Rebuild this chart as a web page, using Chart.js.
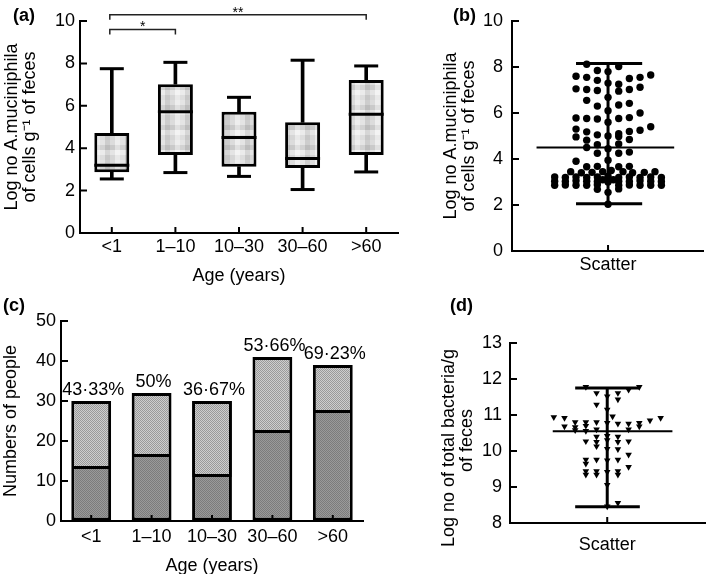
<!doctype html>
<html>
<head>
<meta charset="utf-8">
<title>A. muciniphila</title>
<script src="https://cdn.jsdelivr.net/npm/chart.js@4.4.1/dist/chart.umd.min.js"></script>
<style>
    body { margin: 0; background: #fff; overflow: hidden; }
    #wrap { position: relative; width: 709px; height: 574px; overflow: hidden; }
    #wrap canvas { position: absolute; }
    .panel { position: absolute; font: bold 18px "Liberation Sans", Arial, sans-serif; line-height: 20px; z-index: 2; }
</style>
</head>
<body>
<div id="wrap">
    <canvas id="chartA" width="440" height="290" style="left:0;top:0"></canvas>
    <canvas id="chartB" width="269" height="290" style="left:440px;top:0"></canvas>
    <canvas id="chartC" width="440" height="290" style="left:0;top:290px"></canvas>
    <canvas id="chartD" width="269" height="290" style="left:440px;top:290px"></canvas>
    <div class="panel" style="left:13px;top:5px">(a)</div>
    <div class="panel" style="left:453px;top:5px">(b)</div>
    <div class="panel" style="left:3px;top:295px">(c)</div>
    <div class="panel" style="left:450px;top:295px">(d)</div>
</div>

<script>
    // age groups (a) and (c)
    var ageGroups = ['<1', '1–10', '10–30', '30–60', '>60'];

    // (a) box plot
    var boxMin    = [2.55, 2.85, 2.67, 2.05, 2.88];
    var boxQ1     = [2.87, 3.68, 3.13, 3.07, 3.68];
    var boxMedian = [3.2, 5.72, 4.5, 3.52, 5.6];
    var boxQ3     = [4.72, 7.02, 5.72, 5.22, 7.22];
    var boxMax    = [7.75, 8.05, 6.4, 8.15, 7.88];
    var sigFrom  = [0, 0];
    var sigTo    = [1, 4];
    var sigLevel = [9.6, 10.3];
    var sigMark  = ['*', '**'];

    // (b) scatter: [column offset, log value]
    var pointsB = [
        [-2, 8.12], [1, 8.02], [-1, 7.85], [0, 7.8],
        [-3, 7.6], [-2, 7.55], [2, 7.5], [3, 7.55], [4, 7.65],
        [-1, 7.42], [0, 7.3], [1, 7.25],
        [-3, 7.05], [-2, 7.02], [-1, 6.98], [1, 6.95], [2, 7.02], [3, 7.12],
        [0, 6.68], [-2, 6.55], [-1, 6.3], [1, 6.35], [2, 6.42], [0, 6.1], [3, 6.0],
        [-3, 5.78], [-2, 5.76], [-1, 5.74], [0, 5.6], [1, 5.76], [2, 5.8],
        [4, 5.4], [-3, 5.3], [3, 5.25],
        [-2, 5.18], [-1, 5.05], [1, 5.1], [2, 5.2],
        [-3, 4.96], [0, 5.0], [1, 4.98], [-2, 4.82], [2, 4.85],
        [-1, 4.62], [1, 4.65], [0, 4.45], [-2, 4.5],
        [-1, 4.25], [1, 4.25], [2, 4.3], [-3, 3.9], [0, 3.95],
        [-2, 3.66], [-1, 3.68], [1, 3.66], [2, 3.68],
        [-3.5, 3.45], [-2.5, 3.4], [-1.5, 3.42], [-0.5, 3.45], [0.3, 3.5], [1.4, 3.45], [2.3, 3.4], [3.4, 3.42], [4.4, 3.45],
        [-5, 3.22], [-4, 3.2], [-3, 3.22], [-2, 3.2], [-1, 3.22], [0, 3.25], [1, 3.2], [2, 3.22], [3, 3.2], [4, 3.22], [5, 3.2],
        [-5, 3.03], [-4, 3.02], [-3, 3.05], [-2, 3.03], [-1, 3.02], [-0.5, 3.1], [0, 3.0], [0.5, 3.1], [1, 3.03], [2, 3.02], [3, 3.05], [4, 3.03], [5, 3.02],
        [-5, 2.86], [-4, 2.87], [-3, 2.86], [-2, 2.86], [-1, 2.88], [1, 2.86], [2, 2.87], [3, 2.86], [4, 2.86], [5, 2.86],
        [-1, 2.68], [1, 2.7], [0, 2.55], [0, 2.03]
    ];
    var meanB = 4.5, lowB = 2.05, highB = 8.15;

    // (c) stacked bars
    var totalPeople    = [30, 32, 30, 41, 39];
    var positivePeople = [13, 16, 11, 22, 27];
    var percentLabels  = ['43·33%', '50%', '36·67%', '53·66%', '69·23%'];

    // (d) scatter: [column offset, log value]
    var pointsD = [
        [-2, 11.78], [3, 11.78], [2, 11.7], [-1, 11.61], [1, 11.61],
        [0, 11.52], [1, 11.43], [-1, 11.29], [0, 11.15],
        [-5, 10.94], [-4, 10.92], [0.5, 10.96], [4, 10.85], [5, 10.92],
        [-3, 10.8], [-2, 10.8], [-1, 10.8], [0, 10.78], [1, 10.76], [2, 10.76], [3, 10.78],
        [-4, 10.68], [-3, 10.66], [-2, 10.7], [3, 10.68],
        [-3, 10.58], [-2, 10.56], [-1, 10.6], [2, 10.6],
        [-1, 10.4], [0, 10.42], [1, 10.4],
        [-2, 10.27], [-1, 10.25], [0, 10.3], [1, 10.25], [2, 10.27],
        [-1, 10.13], [0, 10.06], [1, 10.05], [2, 9.9],
        [-2, 9.76], [-1, 9.76], [0, 9.74], [1, 9.76], [-2, 9.65], [2, 9.56],
        [-2, 9.44], [-1, 9.44], [0, 9.42], [1, 9.44],
        [-2, 9.34], [-1, 9.34], [1, 9.34],
        [0, 9.06], [1, 8.56], [0, 8.46]
    ];
    var meanD = 10.55, lowD = 8.45, highD = 11.75;

    var FONT = '"Liberation Sans", Arial, sans-serif';
    Chart.defaults.font.family = FONT;
    Chart.defaults.font.size = 18;
    Chart.defaults.color = '#000';

    function makePattern(cells, size) {
        var c = document.createElement('canvas');
        c.width = cells[0].length * size;
        c.height = cells.length * size;
        var g = c.getContext('2d');
        cells.forEach(function (row, i) {
            row.forEach(function (col, j) {
                g.fillStyle = col;
                g.fillRect(j * size, i * size, size, size);
            });
        });
        return g.createPattern(c, 'repeat');
    }
    var boxFill = makePattern([
        ['#e4e4e4', '#cdcdcd', '#dcdcdc', '#eeeeee'],
        ['#d2d2d2', '#bdbdbd', '#cacaca', '#e0e0e0'],
        ['#ebebeb', '#d6d6d6', '#e4e4e4', '#f3f3f3'],
        ['#dddddd', '#c7c7c7', '#d6d6d6', '#e8e8e8']
    ], 5);
    var darkFill = makePattern([['#7c7c7c', '#9a9a9a'], ['#9a9a9a', '#7c7c7c']], 1);
    var lightFill = makePattern([['#9a9a9a', '#cecece'], ['#cecece', '#9a9a9a']], 1);

    // ticks pointing into the plot
    var inwardTicks = {
        id: 'inwardTicks',
        afterDatasetsDraw: function (chart) {
            var ctx = chart.ctx, area = chart.chartArea;
            var xs = chart.scales.x, ys = chart.scales.y;
            ctx.save();
            ctx.strokeStyle = '#000';
            ctx.lineWidth = 2;
            ctx.beginPath();
            ys.ticks.forEach(function (t, i) {
                var py = ys.getPixelForTick(i);
                ctx.moveTo(area.left, py);
                ctx.lineTo(area.left + 7, py);
            });
            xs.ticks.forEach(function (t, i) {
                var px = xs.getPixelForTick(i);
                ctx.moveTo(px, area.bottom);
                ctx.lineTo(px, area.bottom - 6);
            });
            ctx.stroke();
            ctx.restore();
        }
    };

    var brackets = {
        id: 'brackets',
        afterDatasetsDraw: function (chart) {
            var ctx = chart.ctx, xs = chart.scales.x, ys = chart.scales.y;
            ctx.save();
            ctx.strokeStyle = '#222';
            ctx.lineWidth = 1.5;
            ctx.fillStyle = '#000';
            ctx.font = '14px ' + FONT;
            ctx.textAlign = 'center';
            ctx.textBaseline = 'alphabetic';
            for (var i = 0; i < sigFrom.length; i++) {
                var x1 = xs.getPixelForTick(sigFrom[i]) - 2;
                var x2 = xs.getPixelForTick(sigTo[i]);
                var py = ys.getPixelForValue(sigLevel[i]);
                ctx.beginPath();
                ctx.moveTo(x1, py + 5); ctx.lineTo(x1, py);
                ctx.lineTo(x2, py); ctx.lineTo(x2, py + 5);
                ctx.stroke();
                ctx.fillText(sigMark[i], (x1 + x2) / 2, py + 2);
            }
            ctx.restore();
        }
    };

    var percentText = {
        id: 'percentText',
        afterDatasetsDraw: function (chart) {
            var ctx = chart.ctx, xs = chart.scales.x, ys = chart.scales.y;
            ctx.save();
            ctx.fillStyle = '#000';
            ctx.font = '18px ' + FONT;
            ctx.textAlign = 'center';
            ctx.textBaseline = 'alphabetic';
            percentLabels.forEach(function (txt, i) {
                ctx.fillText(txt, xs.getPixelForTick(i) + 2, ys.getPixelForValue(totalPeople[i]) - 6);
            });
            ctx.restore();
        }
    };

    function axisY(min, max, step, width, pad, title, titlePad) {
        return {
            min: min, max: max,
            ticks: { stepSize: step, padding: pad, font: { size: 18, lineHeight: 1 } },
            grid: { drawOnChartArea: false, drawTicks: false, tickLength: 0 },
            border: { color: '#000', width: 2 },
            title: { display: true, text: title, font: { size: 18, lineHeight: 1 }, padding: { top: titlePad, bottom: 0 } },
            afterFit: function (s) { s.width = width; }
        };
    }

    var common = {
        responsive: false,
        animation: false,
        events: [],
        plugins: { legend: { display: false }, tooltip: { enabled: false } }
    };

    // ---------- (a) ----------
    new Chart(document.getElementById('chartA'), {
        type: 'bar',
        data: {
            labels: ageGroups,
            datasets: [
                { type: 'line', data: boxMedian, showLine: false, pointStyle: 'line', pointRadius: 17.5,
                  pointBorderWidth: 3, pointBorderColor: '#000', order: 1 },
                { type: 'line', data: boxMax, showLine: false, pointStyle: 'line', pointRadius: 12,
                  pointBorderWidth: 3, pointBorderColor: '#000', order: 1 },
                { type: 'line', data: boxMin, showLine: false, pointStyle: 'line', pointRadius: 12,
                  pointBorderWidth: 3, pointBorderColor: '#000', order: 1 },
                { data: boxQ1.map(function (v, i) { return [v, boxQ3[i]]; }), backgroundColor: boxFill,
                  borderColor: '#000', borderWidth: 3, borderSkipped: false, grouped: false,
                  barPercentage: 0.55, categoryPercentage: 1, order: 2 },
                { data: boxMin.map(function (v, i) { return [v, boxQ1[i]]; }), backgroundColor: '#000',
                  barThickness: 3, grouped: false, order: 3 },
                { data: boxQ3.map(function (v, i) { return [v, boxMax[i]]; }), backgroundColor: '#000',
                  barThickness: 3, grouped: false, order: 3 }
            ]
        },
        options: Object.assign({}, common, {
            layout: { padding: { left: 0, right: 42, top: 21, bottom: 0 } },
            scales: {
                x: {
                    ticks: { padding: 5, font: { size: 18, lineHeight: 1 } },
                    grid: { drawOnChartArea: false, drawTicks: false, tickLength: 0 },
                    border: { color: '#000', width: 2 },
                    title: { display: true, text: 'Age (years)', font: { size: 18, lineHeight: 1 }, padding: { top: 0, bottom: 5 } },
                    afterFit: function (s) { s.height = 57; }
                },
                y: axisY(0, 10, 2, 80, 5, ['Log no A.muciniphila', 'of cells g⁻¹ of feces'], 3)
            }
        }),
        plugins: [inwardTicks, brackets]
    });

    // ---------- (b) and (d) ----------
    function scatterPanel(id, points, pointStyle, radius, mean, low, high, meanSpan, capSpan, xMin, xMax,
                          yMin, yMax, yStep, yWidth, yPad, xHeight, xPad, title, titlePad, pad) {
        var lineSet = function (d, w) {
            return { data: d, showLine: true, borderColor: '#000', borderWidth: w, pointRadius: 0, order: 2 };
        };
        new Chart(document.getElementById(id), {
            type: 'scatter',
            data: {
                datasets: [
                    { data: points.map(function (p) { return { x: p[0], y: p[1] }; }), pointStyle: pointStyle,
                      pointRadius: radius, pointRotation: pointStyle === 'triangle' ? 180 : 0,
                      backgroundColor: '#000', borderColor: '#000', borderWidth: 0, order: 1 },
                    lineSet([{ x: 0, y: low }, { x: 0, y: high }], 3),
                    lineSet([{ x: capSpan[0], y: high }, { x: capSpan[1], y: high }], 3),
                    lineSet([{ x: capSpan[0], y: low }, { x: capSpan[1], y: low }], 3),
                    lineSet([{ x: meanSpan[0], y: mean }, { x: meanSpan[1], y: mean }], 2)
                ]
            },
            options: Object.assign({}, common, {
                layout: { padding: pad },
                scales: {
                    x: {
                        type: 'linear', min: xMin, max: xMax,
                        afterBuildTicks: function (s) { s.ticks = [{ value: 0 }]; },
                        ticks: { padding: xPad, font: { size: 18, lineHeight: 1 }, callback: function () { return 'Scatter'; } },
                        grid: { drawOnChartArea: false, drawTicks: false, tickLength: 0 },
                        border: { color: '#000', width: 2 },
                        afterFit: function (s) { s.height = xHeight; }
                    },
                    y: axisY(yMin, yMax, yStep, yWidth, yPad, title, titlePad)
                }
            }),
            plugins: [inwardTicks]
        });
    }

    scatterPanel('chartB', pointsB, 'circle', 3.7, meanB, lowB, highB, [-6.7, 6.2], [-3.0, 3.2], -9, 8.9,
        0, 10, 2, 72, 9, 39, 5, ['Log no A.muciniphila', 'of cells g⁻¹ of feces'], 2,
        { left: 0, right: 6, top: 21, bottom: 0 });

    // trailing spaces push the rotated title a little lower, as in the original
    scatterPanel('chartD', pointsD, 'triangle', 3.8, meanD, lowD, highD, [-5.1, 6.1], [-3.0, 3.05], -9.1, 9.15,
        8, 13, 1, 70, 8, 57, 13, ['Log no of total bacteria/g      ', 'of feces   '], 0,
        { left: 0, right: 4, top: 53, bottom: 0 });

    // ---------- (c) ----------
    new Chart(document.getElementById('chartC'), {
        type: 'bar',
        data: {
            labels: ageGroups,
            datasets: [
                { data: positivePeople, backgroundColor: darkFill, borderColor: '#000', borderWidth: 3,
                  borderSkipped: 'top', barPercentage: 0.66, categoryPercentage: 1 },
                { data: totalPeople.map(function (t, i) { return t - positivePeople[i]; }), backgroundColor: lightFill,
                  borderColor: '#000', borderWidth: 3, borderSkipped: false, barPercentage: 0.66, categoryPercentage: 1 }
            ]
        },
        options: Object.assign({}, common, {
            layout: { padding: { left: 0, right: 77, top: 31, bottom: 0 } },
            scales: {
                x: {
                    stacked: true,
                    ticks: { padding: 7, font: { size: 18, lineHeight: 1 } },
                    grid: { drawOnChartArea: false, drawTicks: false, tickLength: 0 },
                    border: { color: '#000', width: 2 },
                    title: { display: true, text: 'Age (years)', font: { size: 18, lineHeight: 1 }, padding: { top: 0, bottom: 5 } },
                    afterFit: function (s) { s.height = 59; }
                },
                y: Object.assign(axisY(0, 50, 10, 61, 5, 'Numbers of people', 2), { stacked: true })
            }
        }),
        plugins: [inwardTicks, percentText]
    });
</script>
</body>
</html>
